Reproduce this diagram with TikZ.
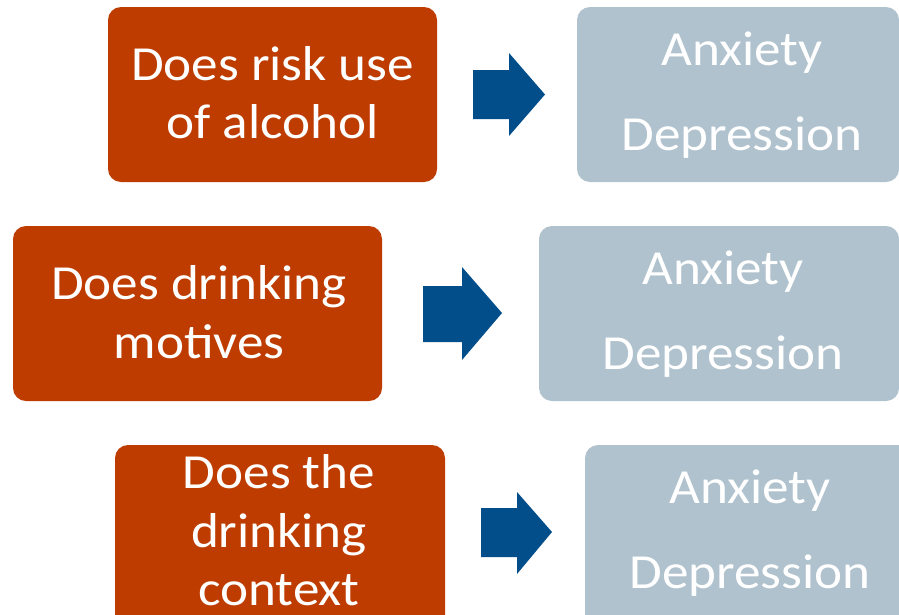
\documentclass[tikz,border=0pt]{standalone}
\usepackage{fontspec}
\usepackage{graphicx}
\setmainfont{Carlito}
\definecolor{rust}{RGB}{190,60,0}
\definecolor{slate}{RGB}{176,194,206}
\definecolor{navy}{RGB}{2,78,138}
\newcommand{\wtxt}[1]{\scalebox{1.085}[1]{#1}}
\tikzset{
  qbox/.style={rectangle, rounded corners=13pt, fill=rust, draw=none, inner sep=0pt, outer sep=0pt},
  abox/.style={rectangle, rounded corners=13pt, fill=slate, draw=none, inner sep=0pt, outer sep=0pt},
  btxt/.style={anchor=base, text=white, inner sep=0pt, font=\fontsize{49}{58}\selectfont},
  barrow/.style={fill=navy, draw=none}
}
\begin{document}
\begin{tikzpicture}[x=1pt, y=-1pt]
\clip (0,0) rectangle (899,614);
\fill[white] (0,0) rectangle (899,614);
% row 1
\node[qbox, minimum width=329pt, minimum height=175pt] (q1) at (272.5,94.5) {};
\node[btxt] (q1a) at (272.5,80) {\wtxt{Does risk use}};
\node[btxt] (q1b) at (272.5,138) {\wtxt{of alcohol}};
\fill[barrow] (473,70) -- (509,70) -- (509,53) -- (545,94.5) -- (509,136) -- (509,119) -- (473,119) -- cycle;
\node[abox, minimum width=322pt, minimum height=175pt] (r1) at (738,94.5) {};
\node[btxt] (r1a) at (742,65) {\wtxt{Anxiety}};
\node[btxt] (r1b) at (742,150) {\wtxt{Depression}};
% row 2
\node[qbox, minimum width=369pt, minimum height=175pt] (q2) at (197.5,313.5) {};
\node[btxt] (q2a) at (199,299) {\wtxt{Does drinking}};
\node[btxt] (q2b) at (199,358) {\wtxt{motives}};
\fill[barrow] (423,286) -- (462,286) -- (462,267) -- (502,313) -- (462,360) -- (462,342) -- (423,342) -- cycle;
\node[abox, minimum width=360pt, minimum height=175pt] (r2) at (719,313.5) {};
\node[btxt] (r2a) at (723,284) {\wtxt{Anxiety}};
\node[btxt] (r2b) at (723,369) {\wtxt{Depression}};
% row 3
\node[qbox, minimum width=330pt, minimum height=190pt] (q3) at (280,540) {};
\node[btxt] (q3a) at (279,488) {\wtxt{Does the}};
\node[btxt] (q3b) at (279,547) {\wtxt{drinking}};
\node[btxt] (q3c) at (279,605) {\wtxt{context}};
\fill[barrow] (481,508) -- (517,508) -- (517,492) -- (552,532) -- (517,574) -- (517,557) -- (481,557) -- cycle;
\node[abox, minimum width=340pt, minimum height=190pt] (r3) at (755,540) {};
\node[btxt] (r3a) at (750,503) {\wtxt{Anxiety}};
\node[btxt] (r3b) at (750,588) {\wtxt{Depression}};
\end{tikzpicture}
\end{document}
